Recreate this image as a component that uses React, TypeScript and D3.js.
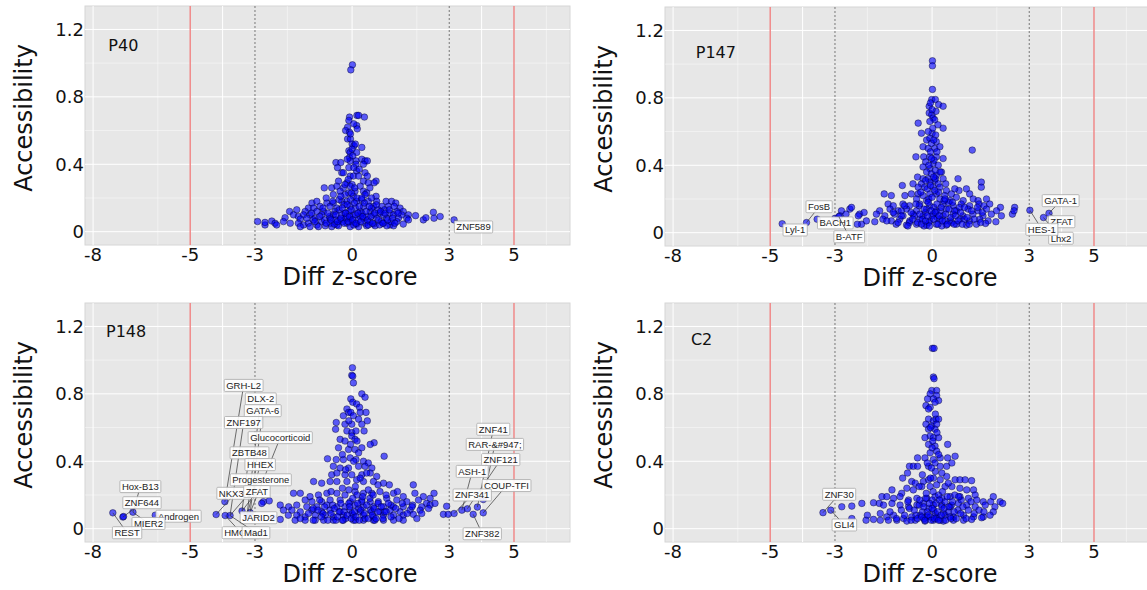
import React from 'react';
import * as d3 from 'd3';

type Pt = [number, number];
type Lbl = { text: string; x: number; y: number; lx: number; ly: number };

const xTicks = [-8, -5, -3, 0, 3, 5];
const yTicks = [0, 0.4, 0.8, 1.2];
const xGridMajor = [-8, -4, 0, 4];
const xGridMinor = [-6, -2, 2, 6];
const yGridMajor = [0, 0.4, 0.8, 1.2];
const yGridMinor = [0.2, 0.6, 1.0];
const redCutoffs = [-5, 5];
const dashCutoffs = [-3, 3];

// P40
const p40Points: Pt[] = [
  [0.01, 0.99], [-0.04, 0.96],
  [-0.08, 0.68], [0.15, 0.69], [0.2, 0.69], [0.38, 0.68], [-0.1, 0.66], [0.14, 0.63], [-0.14, 0.62], [0.16, 0.61],
  [-0.2, 0.6], [-0.08, 0.59], [-0.14, 0.55], [-0.05, 0.55], [0.0, 0.52], [0.06, 0.51], [-0.1, 0.48], [-0.06, 0.47],
  [0.0, 0.49], [0.14, 0.47], [0.3, 0.5], [-0.08, 0.44], [0.02, 0.45], [0.3, 0.43], [0.4, 0.42], [0.47, 0.42],
  [0.12, 0.42], [-0.5, 0.41], [-0.35, 0.41], [-0.06, 0.42], [-0.45, 0.38], [-0.1, 0.38], [0.12, 0.4], [0.35, 0.4],
  [-0.32, 0.35], [-0.27, 0.35], [0.14, 0.36], [0.4, 0.35], [-0.06, 0.33], [0.04, 0.33], [0.47, 0.33], [-0.42, 0.3],
  [0.35, 0.3], [0.74, 0.3], [-0.16, 0.29], [0.0, 0.28], [0.5, 0.29], [0.68, 0.29], [-0.86, 0.26], [-0.63, 0.26],
  [-0.47, 0.27], [-0.27, 0.26], [-0.06, 0.27], [0.25, 0.27], [0.55, 0.26], [-0.37, 0.24], [-0.11, 0.23], [0.09, 0.24],
  [0.35, 0.24], [0.45, 0.23], [-0.58, 0.22], [-0.22, 0.22], [0.04, 0.21], [0.4, 0.22], [0.74, 0.21],
  [-1.24, 0.17], [-1.09, 0.18], [-0.78, 0.17], [-0.58, 0.17], [-0.32, 0.18], [-0.16, 0.18], [0.14, 0.18], [0.5, 0.18],
  [0.76, 0.18], [1.05, 0.18], [1.22, 0.18], [1.35, 0.17],
  [-1.35, 0.14], [-1.19, 0.14], [-0.99, 0.15], [-0.68, 0.15], [-0.47, 0.14], [-0.06, 0.15], [0.35, 0.15], [0.66, 0.15],
  [0.92, 0.15], [1.12, 0.15], [1.48, 0.14], [1.58, 0.12],
  [-1.93, 0.12], [-1.71, 0.13], [-1.45, 0.12], [-1.09, 0.12], [-0.88, 0.12], [-0.53, 0.12], [-0.22, 0.11], [0.25, 0.12],
  [0.56, 0.12], [0.86, 0.11], [1.17, 0.11], [1.38, 0.12],
  [-1.81, 0.1], [-1.66, 0.09], [-1.5, 0.1], [-1.3, 0.1], [-0.94, 0.1], [-0.58, 0.1], [-0.32, 0.1], [0.04, 0.1],
  [0.25, 0.09], [0.66, 0.1], [0.97, 0.1], [1.28, 0.1], [1.53, 0.1], [1.74, 0.1], [1.96, 0.095],
  [-2.07, 0.083], [-1.6, 0.075], [-1.14, 0.08], [-0.68, 0.08], [-0.37, 0.07], [-0.06, 0.075], [0.35, 0.08], [0.76, 0.08],
  [1.07, 0.08], [1.43, 0.08], [1.69, 0.08], [2.2, 0.07], [2.28, 0.083], [2.51, 0.115], [2.53, 0.08], [2.72, 0.09],
  [-2.92, 0.06], [-2.69, 0.04], [-2.69, 0.055], [-2.48, 0.063], [-2.38, 0.05], [-2.33, 0.04], [-2.12, 0.06], [-1.91, 0.05],
  [-1.66, 0.05], [-1.5, 0.04], [-1.35, 0.05], [-1.09, 0.04], [-0.94, 0.06], [-0.68, 0.05], [-0.47, 0.04], [-0.16, 0.05],
  [0.14, 0.045], [0.4, 0.05], [0.66, 0.045], [0.97, 0.05], [1.17, 0.04], [1.38, 0.06], [1.74, 0.07],
  [-1.6, 0.03], [-1.3, 0.03], [-1.04, 0.03], [-0.83, 0.035], [-0.63, 0.03], [-0.42, 0.035], [-0.06, 0.03], [0.2, 0.03],
  [0.45, 0.035], [0.71, 0.035], [1.07, 0.035], [1.28, 0.035], [1.58, 0.045],
  [-0.3, 0.06], [-0.2, 0.08], [-0.1, 0.12], [0.0, 0.06], [0.1, 0.14], [0.2, 0.07], [0.3, 0.11], [0.45, 0.09],
  [0.55, 0.06], [0.6, 0.14], [-0.4, 0.13], [-0.5, 0.07], [-0.7, 0.09], [0.8, 0.13], [0.9, 0.06], [-0.85, 0.07],
  [0.15, 0.2], [-0.05, 0.19], [0.3, 0.19], [-0.25, 0.16], [0.1, 0.1], [-0.15, 0.09], [0.5, 0.04], [-0.55, 0.045],
  [0.05, 0.04], [0.85, 0.04], [1.0, 0.13], [-1.2, 0.07], [1.2, 0.06],
  [-1.4, 0.08], [-1.25, 0.11], [-1.15, 0.06], [-1.0, 0.09], [-0.9, 0.14], [-0.8, 0.05], [-0.75, 0.11], [-0.65, 0.07],
  [-0.6, 0.18], [-0.5, 0.1], [-0.45, 0.06], [-0.4, 0.19], [-0.35, 0.08], [-0.3, 0.14], [-0.25, 0.05], [-0.2, 0.11],
  [-0.15, 0.16], [-0.12, 0.06], [-0.08, 0.09], [-0.03, 0.13], [0.02, 0.07], [0.07, 0.17], [0.12, 0.05], [0.18, 0.11],
  [0.22, 0.15], [0.27, 0.06], [0.33, 0.09], [0.38, 0.17], [0.43, 0.12], [0.48, 0.07], [0.53, 0.15], [0.58, 0.09],
  [0.63, 0.05], [0.7, 0.11], [0.75, 0.16], [0.82, 0.07], [0.88, 0.12], [0.95, 0.05], [1.02, 0.11], [1.1, 0.07],
  [1.15, 0.13], [1.25, 0.08], [1.32, 0.05], [1.42, 0.11], [-0.02, 0.23], [0.08, 0.26], [-0.12, 0.31], [0.2, 0.33],
  [0.05, 0.38], [-0.15, 0.43], [0.1, 0.52], [-0.05, 0.58], [0.05, 0.64], [0.22, 0.37], [-0.22, 0.28], [0.3, 0.2],
  [-0.35, 0.21], [0.6, 0.2], [-0.8, 0.2], [1.3, 0.15],
  [3.15, 0.07],
];
const p40Labels: Lbl[] = [{ text: 'ZNF589', x: 3.15, y: 0.07, lx: 3.75, ly: 0.028 }];

// P147
const p147Points: Pt[] = [
  [0.01, 1.02], [0.01, 0.99], [0.01, 0.85], [-0.01, 0.79], [0.1, 0.79], [0.2, 0.76], [0.34, 0.75], [-0.09, 0.75],
  [-0.09, 0.71], [-0.01, 0.7], [0.03, 0.68], [0.08, 0.67], [-0.07, 0.66], [0.34, 0.62], [-0.43, 0.65], [-0.33, 0.59],
  [0, 0.59], [0.11, 0.58], [-0.17, 0.55], [-0.07, 0.56], [0.13, 0.54], [-0.28, 0.51], [-0.12, 0.5], [0.08, 0.5],
  [0.24, 0.51], [1.24, 0.49], [-0.5, 0.45], [-0.26, 0.45], [-0.07, 0.45], [0.13, 0.45], [0.34, 0.44], [-0.2, 0.42],
  [0.03, 0.41], [0.19, 0.4], [-0.28, 0.39], [-0.07, 0.38], [-0.17, 0.36], [-0.02, 0.35], [0.13, 0.34], [0.29, 0.36],
  [-0.45, 0.33], [-0.28, 0.32], [-0.12, 0.32], [0.08, 0.31], [0.34, 0.32], [0.8, 0.32], [-0.33, 0.29], [-0.07, 0.3],
  [0.19, 0.29], [0.42, 0.29], [1.52, 0.3], [1.52, 0.27], [-0.92, 0.28], [-0.59, 0.29], [-0.43, 0.27], [-0.23, 0.27],
  [0.03, 0.27], [0.24, 0.27], [0.44, 0.25], [0.83, 0.25], [1.06, 0.26], [-1.48, 0.23], [-1.26, 0.22], [-0.84, 0.22],
  [-0.64, 0.23], [-0.43, 0.23], [-0.28, 0.22], [-0.07, 0.23], [0.13, 0.23], [0.39, 0.22], [0.6, 0.23], [0.75, 0.21],
  [1.16, 0.23], [-0.48, 0.2], [-0.17, 0.19], [0.24, 0.2], [0.55, 0.19], [0.96, 0.19], [1.27, 0.2], [1.42, 0.19],
  [1.68, 0.2],
  [-1.36, 0.17], [-1.2, 0.16], [-0.9, 0.17], [-0.7, 0.16], [-0.38, 0.17], [-0.07, 0.16], [0.34, 0.17], [0.65, 0.16],
  [0.9, 0.17], [1.16, 0.16], [1.45, 0.17], [1.6, 0.16], [1.78, 0.17], [2.11, 0.15], [2.55, 0.15],
  [-1.62, 0.13], [-1.3, 0.14], [-1.05, 0.13], [-0.79, 0.14], [-0.48, 0.13], [-0.17, 0.14], [0.13, 0.13], [0.44, 0.14],
  [0.75, 0.13], [1.11, 0.14], [1.42, 0.13], [1.68, 0.14], [1.99, 0.13],
  [-1.72, 0.11], [-1.46, 0.1], [-1.16, 0.11], [-0.9, 0.1], [-0.59, 0.11], [-0.28, 0.1], [0.03, 0.11], [0.34, 0.1],
  [0.65, 0.11], [0.95, 0.1], [1.26, 0.11], [1.57, 0.1], [1.83, 0.11], [2.14, 0.1], [2.48, 0.11],
  [-1.77, 0.065], [-1.52, 0.08], [-1.26, 0.07], [-1.0, 0.08], [-0.69, 0.07], [-0.38, 0.08], [-0.07, 0.07], [0.24, 0.08],
  [0.55, 0.07], [0.86, 0.08], [1.16, 0.07], [1.47, 0.08], [1.73, 0.07], [1.97, 0.065],
  [-1.11, 0.05], [-0.79, 0.045], [-0.48, 0.05], [-0.17, 0.045], [0.13, 0.05], [0.44, 0.045], [0.75, 0.05], [1.06, 0.045],
  [1.37, 0.05], [1.65, 0.055],
  [-2.54, 0.14], [-2.49, 0.15], [-2.8, 0.13], [-2.66, 0.11], [-2.24, 0.11], [-2.1, 0.12], [-2.28, 0.1], [-2.03, 0.07],
  [-2.18, 0.05], [-2.31, 0.05], [-2.85, 0.1], [-3.0, 0.085], [-2.88, 0.095],
  [-4.63, 0.053], [-3.88, 0.06], [-3.55, 0.08],
  [2.53, 0.13], [3.02, 0.133], [3.61, 0.115], [3.44, 0.09],
  [-0.3, 0.08], [-0.2, 0.12], [-0.1, 0.06], [0.05, 0.15], [0.15, 0.09], [0.25, 0.13], [0.4, 0.07], [-0.4, 0.16],
  [0.5, 0.18], [-0.55, 0.1], [0.6, 0.06], [-0.15, 0.26], [0.1, 0.37], [-0.05, 0.48], [0.02, 0.62], [-0.02, 0.53],
  [0.06, 0.43], [-0.1, 0.2], [0.2, 0.24], [0.1, 0.32], [0.0, 0.1], [0.3, 0.04], [-0.25, 0.04], [0.7, 0.13],
  [-0.7, 0.06], [1.0, 0.08], [0.85, 0.15], [-0.95, 0.13], [0.12, 0.72], [-0.05, 0.77],
  [-1.4, 0.07], [-1.2, 0.12], [-1.05, 0.06], [-0.95, 0.1], [-0.85, 0.16], [-0.75, 0.04], [-0.65, 0.12], [-0.6, 0.08],
  [-0.5, 0.17], [-0.45, 0.06], [-0.38, 0.11], [-0.33, 0.05], [-0.25, 0.14], [-0.2, 0.07], [-0.15, 0.1], [-0.12, 0.18],
  [-0.08, 0.04], [-0.03, 0.13], [0.0, 0.21], [0.05, 0.08], [0.08, 0.25], [0.1, 0.12], [0.15, 0.17], [0.18, 0.05],
  [0.22, 0.1], [0.28, 0.15], [0.32, 0.07], [0.37, 0.19], [0.42, 0.11], [0.47, 0.05], [0.52, 0.14], [0.58, 0.09],
  [0.63, 0.18], [0.68, 0.05], [0.72, 0.1], [0.8, 0.07], [0.88, 0.12], [0.93, 0.05], [1.0, 0.15], [1.08, 0.09],
  [1.15, 0.05], [1.22, 0.13], [1.3, 0.08], [1.4, 0.15], [1.5, 0.06], [1.55, 0.12], [-0.05, 0.28], [0.05, 0.33],
  [-0.1, 0.4], [0.15, 0.48], [-0.2, 0.31], [0.25, 0.36], [-0.02, 0.44], [0.05, 0.55], [-0.12, 0.6], [0.18, 0.64],
  [0.0, 0.73], [0.4, 0.2], [-0.35, 0.24], [0.7, 0.26],
];
const p147Labels: Lbl[] = [
  { text: 'Lyl-1', x: -4.63, y: 0.053, lx: -4.23, ly: 0.016 },
  { text: 'FosB', x: -3.88, y: 0.06, lx: -3.49, ly: 0.154 },
  { text: 'BACH1', x: -3.0, y: 0.085, lx: -2.99, ly: 0.058 },
  { text: 'B-ATF', x: -2.88, y: 0.095, lx: -2.56, ly: -0.024 },
  { text: 'GATA-1', x: 3.61, y: 0.115, lx: 3.97, ly: 0.19 },
  { text: 'ZFAT', x: 3.61, y: 0.115, lx: 4.0, ly: 0.065 },
  { text: 'Lhx2', x: 3.44, y: 0.09, lx: 3.98, ly: -0.033 },
  { text: 'HES-1', x: 3.02, y: 0.133, lx: 3.39, ly: 0.02 },
];

// P148
const p148Points: Pt[] = [
  [0.01, 0.955], [-0.01, 0.91], [0.02, 0.905], [0.04, 0.865], [0.3, 0.8], [0.4, 0.78], [-0.04, 0.77], [0.02, 0.75],
  [0.14, 0.74], [0.23, 0.72], [-0.16, 0.71], [-0.11, 0.69], [-0.04, 0.69], [0.25, 0.69], [0.43, 0.69], [-0.27, 0.67],
  [0.04, 0.67], [0.2, 0.65], [0.47, 0.64], [-0.49, 0.63], [-0.22, 0.62], [-0.01, 0.62], [-0.51, 0.59], [-0.16, 0.58],
  [-0.01, 0.57], [0.12, 0.58], [0.37, 0.58], [-0.01, 0.55], [-0.37, 0.53], [-0.22, 0.52], [0.09, 0.53], [0.68, 0.51],
  [0.56, 0.5], [-0.42, 0.48], [-0.11, 0.47], [0.09, 0.47], [0.3, 0.48], [-0.76, 0.415], [-0.49, 0.41], [-0.27, 0.41],
  [-0.06, 0.42], [0.12, 0.41], [0.35, 0.4], [0.5, 0.39], [0.99, 0.43], [-0.58, 0.37], [-0.37, 0.36], [-0.11, 0.36],
  [0.2, 0.37], [0.4, 0.37], [0.61, 0.36], [-0.63, 0.32], [-0.47, 0.33], [-0.22, 0.32], [-0.01, 0.32], [0.3, 0.32],
  [0.56, 0.33], [0.76, 0.31], [-1.19, 0.28], [-0.94, 0.27], [-0.68, 0.28], [-0.47, 0.28], [-0.16, 0.28], [0.14, 0.29],
  [0.35, 0.28], [0.66, 0.28], [0.97, 0.27], [1.15, 0.26], [1.89, 0.26],
  [-1.81, 0.21], [-1.6, 0.21], [-1.3, 0.19], [-1.04, 0.2], [-0.78, 0.21], [-0.47, 0.21], [-0.22, 0.2], [0.09, 0.22],
  [0.35, 0.21], [0.61, 0.21], [0.86, 0.22], [1.28, 0.21], [1.58, 0.19], [1.94, 0.21], [2.2, 0.19], [2.53, 0.21],
  [-1.45, 0.17], [-1.24, 0.16], [-0.94, 0.16], [-0.68, 0.17], [-0.37, 0.17], [-0.06, 0.16], [0.3, 0.17], [0.56, 0.16],
  [0.81, 0.16], [1.07, 0.18], [1.38, 0.17], [1.69, 0.16], [2.05, 0.17], [2.3, 0.15], [2.41, 0.18],
  [-2.74, 0.16], [-2.22, 0.14], [-1.96, 0.13], [-1.71, 0.14], [-1.4, 0.13], [-1.09, 0.13], [-0.78, 0.14], [-0.47, 0.13],
  [-0.22, 0.13], [0.09, 0.14], [0.35, 0.13], [0.66, 0.13], [0.97, 0.13], [1.28, 0.13], [1.58, 0.13], [1.87, 0.14],
  [2.15, 0.13], [2.41, 0.14], [2.56, 0.15],
  [-2.12, 0.11], [-1.86, 0.11], [-1.6, 0.1], [-1.24, 0.11], [-0.94, 0.1], [-0.68, 0.11], [-0.37, 0.1], [-0.06, 0.11],
  [0.25, 0.1], [0.56, 0.11], [0.86, 0.1], [1.17, 0.11], [1.48, 0.1], [1.79, 0.11], [2.1, 0.11], [2.36, 0.12],
  [-1.97, 0.08], [-1.71, 0.08], [-1.45, 0.07], [-1.14, 0.08], [-0.83, 0.08], [-0.58, 0.07], [-0.27, 0.08], [0.04, 0.08],
  [0.35, 0.08], [0.66, 0.07], [0.97, 0.08], [1.28, 0.08], [1.58, 0.08], [1.89, 0.085], [2.15, 0.09],
  [-1.76, 0.05], [-1.45, 0.05], [-1.14, 0.05], [-0.88, 0.05], [-0.58, 0.05], [-0.27, 0.05], [0.04, 0.05], [0.35, 0.05],
  [0.66, 0.05], [0.97, 0.05], [1.28, 0.05], [1.58, 0.05],
  [-2.43, 0.065], [-2.22, 0.055], [-2.79, 0.15], [-2.56, 0.165],
  [-0.2, 0.06], [0.0, 0.09], [0.2, 0.12], [-0.4, 0.1], [0.4, 0.06], [0.6, 0.1], [-0.6, 0.14], [0.8, 0.15],
  [-0.1, 0.15], [0.15, 0.2], [0.5, 0.23], [-0.3, 0.24], [0.1, 0.05], [-0.5, 0.05], [0.7, 0.05], [1.0, 0.1],
  [-0.9, 0.09], [0.3, 0.16], [1.2, 0.14], [-1.2, 0.12],
  [-1.6, 0.06], [-1.35, 0.09], [-1.2, 0.05], [-1.05, 0.11], [-0.95, 0.07], [-0.85, 0.13], [-0.75, 0.05], [-0.65, 0.09],
  [-0.55, 0.12], [-0.45, 0.07], [-0.35, 0.15], [-0.3, 0.05], [-0.25, 0.1], [-0.15, 0.08], [-0.08, 0.13], [-0.03, 0.06],
  [0.02, 0.18], [0.07, 0.1], [0.12, 0.07], [0.17, 0.15], [0.22, 0.05], [0.27, 0.11], [0.33, 0.19], [0.38, 0.09],
  [0.45, 0.14], [0.5, 0.06], [0.55, 0.18], [0.62, 0.08], [0.68, 0.12], [0.74, 0.06], [0.8, 0.1], [0.9, 0.13],
  [0.95, 0.06], [1.05, 0.1], [1.12, 0.15], [1.2, 0.07], [1.35, 0.12], [1.45, 0.06], [1.55, 0.15], [1.7, 0.09],
  [1.85, 0.13], [2.0, 0.06], [0.1, 0.25], [-0.1, 0.23], [0.25, 0.3], [-0.2, 0.35], [0.45, 0.33], [0.05, 0.4],
  [0.2, 0.45], [-0.3, 0.44], [0.15, 0.52], [-0.05, 0.5], [0.3, 0.62], [-0.1, 0.64], [0.65, 0.2], [-0.65, 0.22],
  [0.8, 0.26], [1.05, 0.2], [-1.0, 0.17], [1.4, 0.22],
  [2.82, 0.085], [2.97, 0.085], [2.92, 0.133], [3.15, 0.09], [3.39, 0.11], [3.56, 0.118], [3.74, 0.085], [3.87, 0.128],
  [4.05, 0.173], [4.05, 0.094],
  [-7.39, 0.094], [-7.08, 0.069], [-7.06, 0.072], [-6.77, 0.098], [-6.08, 0.08],
  [-4.2, 0.084], [-3.93, 0.16], [-3.92, 0.078], [-3.77, 0.078], [-3.4, 0.105], [-3.25, 0.074], [-3.15, 0.095],
];
const p148Labels: Lbl[] = [
  { text: 'GRH-L2', x: -3.93, y: 0.16, lx: -3.35, ly: 0.85 },
  { text: 'DLX-2', x: -3.25, y: 0.074, lx: -2.82, ly: 0.77 },
  { text: 'GATA-6', x: -3.15, y: 0.095, lx: -2.76, ly: 0.7 },
  { text: 'ZNF197', x: -3.77, y: 0.078, lx: -3.35, ly: 0.63 },
  { text: 'Glucocorticoid', x: -3.15, y: 0.095, lx: -2.22, ly: 0.54 },
  { text: 'ZBTB48', x: -3.4, y: 0.105, lx: -3.17, ly: 0.45 },
  { text: 'HHEX', x: -3.25, y: 0.074, lx: -2.84, ly: 0.38 },
  { text: 'Progesterone', x: -3.77, y: 0.078, lx: -2.82, ly: 0.29 },
  { text: 'NKX3.1', x: -4.2, y: 0.084, lx: -3.61, ly: 0.21 },
  { text: 'ZFAT', x: -3.4, y: 0.105, lx: -2.94, ly: 0.22 },
  { text: 'JARID2', x: -3.15, y: 0.095, lx: -2.89, ly: 0.065 },
  { text: 'HMGA1', x: -3.92, y: 0.078, lx: -3.43, ly: -0.024 },
  { text: 'Mad1', x: -3.77, y: 0.078, lx: -2.97, ly: -0.024 },
  { text: 'Hox-B13', x: -6.77, y: 0.098, lx: -6.54, ly: 0.25 },
  { text: 'ZNF644', x: -7.08, y: 0.069, lx: -6.49, ly: 0.154 },
  { text: 'Androgen', x: -6.08, y: 0.08, lx: -5.36, ly: 0.074 },
  { text: 'MIER2', x: -6.77, y: 0.098, lx: -6.29, ly: 0.031 },
  { text: 'REST', x: -7.39, y: 0.094, lx: -6.95, ly: -0.024 },
  { text: 'ZNF41', x: 3.87, y: 0.128, lx: 4.36, ly: 0.59 },
  { text: 'RAR-&#947;', x: 4.05, y: 0.173, lx: 4.41, ly: 0.5 },
  { text: 'ZNF121', x: 3.56, y: 0.118, lx: 4.59, ly: 0.41 },
  { text: 'ASH-1', x: 3.39, y: 0.11, lx: 3.71, ly: 0.34 },
  { text: 'COUP-TFI', x: 4.05, y: 0.094, lx: 4.77, ly: 0.256 },
  { text: 'ZNF341', x: 3.15, y: 0.09, lx: 3.71, ly: 0.2 },
  { text: 'ZNF382', x: 3.74, y: 0.085, lx: 4.02, ly: -0.03 },
];

// C2
const c2Points: Pt[] = [
  [0.01, 1.07], [0.06, 1.07], [0.04, 0.9], [0.06, 0.89], [-0.01, 0.82], [0.14, 0.82], [-0.06, 0.8], [0.14, 0.79],
  [0.2, 0.76], [-0.14, 0.77], [0.04, 0.77], [-0.19, 0.73], [-0.06, 0.72], [0.09, 0.75], [-0.11, 0.71], [-0.11, 0.65],
  [0.04, 0.64], [0.12, 0.65], [0.2, 0.65], [-0.19, 0.62], [-0.01, 0.61], [0.14, 0.62], [0.09, 0.59], [-0.11, 0.59],
  [-0.06, 0.55], [-0.22, 0.54], [0.04, 0.54], [0.2, 0.54], [0.48, 0.5], [-0.11, 0.5], [0.09, 0.49], [-0.06, 0.45],
  [0.14, 0.46], [-0.45, 0.42], [-0.22, 0.42], [0.04, 0.41], [0.25, 0.42], [0.48, 0.42], [0.71, 0.43], [-0.7, 0.37],
  [-0.58, 0.37], [-0.45, 0.37], [-0.11, 0.37], [0.09, 0.39], [0.25, 0.37], [0.45, 0.37], [0.61, 0.39], [-0.91, 0.3],
  [-0.76, 0.33], [-0.63, 0.28], [-0.52, 0.27], [-0.27, 0.28], [-0.11, 0.29], [0.04, 0.3], [0.25, 0.29], [0.45, 0.31],
  [0.71, 0.29], [0.86, 0.29], [1.02, 0.29], [1.22, 0.285], [-1.24, 0.23], [-0.94, 0.21], [-0.78, 0.24], [-0.58, 0.23],
  [-0.32, 0.25], [-0.06, 0.25], [0.14, 0.26], [0.4, 0.25], [0.61, 0.25], [0.86, 0.24], [1.07, 0.23], [1.28, 0.23],
  [1.33, 0.2],
  [-1.55, 0.19], [-1.4, 0.19], [-1.19, 0.18], [-0.99, 0.19], [-0.73, 0.17], [-0.47, 0.18], [-0.16, 0.18], [0.09, 0.19],
  [0.3, 0.18], [0.56, 0.19], [0.86, 0.19], [1.12, 0.18], [1.38, 0.17], [1.58, 0.16], [1.89, 0.19],
  [1.81, 0.16], [2.1, 0.16], [2.18, 0.15], [1.94, 0.13],
  [-2.17, 0.15], [-1.81, 0.154], [-1.63, 0.15], [-1.5, 0.14], [-1.24, 0.15], [-0.99, 0.14], [-0.73, 0.13], [-0.47, 0.14],
  [-0.27, 0.15], [0.04, 0.14], [0.3, 0.14], [0.56, 0.13], [0.81, 0.15], [1.07, 0.14], [1.33, 0.13], [1.64, 0.14],
  [1.89, 0.1],
  [-2.48, 0.134], [-2.79, 0.13], [-3.13, 0.11], [-3.37, 0.095], [-2.48, 0.06],
  [-2.0, 0.08], [-1.6, 0.09], [-1.4, 0.07], [-1.19, 0.08], [-0.88, 0.06], [-0.63, 0.07], [-0.37, 0.08], [-0.16, 0.07],
  [0.14, 0.07], [0.4, 0.08], [0.66, 0.07], [0.97, 0.08], [1.28, 0.07], [1.58, 0.07], [1.79, 0.08],
  [-2.04, 0.05], [-1.81, 0.055], [-1.6, 0.05], [-1.35, 0.05], [-1.09, 0.05], [-0.78, 0.045], [-0.52, 0.05], [-0.22, 0.045],
  [0.04, 0.05], [0.35, 0.045], [0.66, 0.05], [0.97, 0.05], [1.22, 0.055], [1.53, 0.065],
  [-0.3, 0.1], [-0.1, 0.12], [0.1, 0.09], [0.3, 0.13], [0.5, 0.1], [0.0, 0.17], [0.2, 0.2], [-0.2, 0.18],
  [0.4, 0.16], [0.6, 0.14], [-0.4, 0.14], [0.15, 0.06], [-0.05, 0.07], [0.25, 0.05], [0.55, 0.07], [-0.5, 0.08],
  [0.7, 0.2], [0.8, 0.11], [-0.7, 0.12], [0.9, 0.17], [-0.15, 0.1], [0.05, 0.11], [0.35, 0.09], [-0.25, 0.06],
  [-1.3, 0.1], [-1.1, 0.06], [-0.95, 0.11], [-0.85, 0.08], [-0.75, 0.16], [-0.65, 0.05], [-0.55, 0.11], [-0.45, 0.06],
  [-0.38, 0.17], [-0.32, 0.07], [-0.26, 0.13], [-0.22, 0.05], [-0.18, 0.21], [-0.12, 0.08], [-0.08, 0.15], [-0.03, 0.05],
  [0.0, 0.12], [0.03, 0.22], [0.07, 0.06], [0.12, 0.15], [0.17, 0.1], [0.2, 0.05], [0.23, 0.17], [0.28, 0.08],
  [0.32, 0.22], [0.37, 0.12], [0.42, 0.05], [0.47, 0.19], [0.52, 0.13], [0.58, 0.06], [0.63, 0.16], [0.68, 0.1],
  [0.75, 0.06], [0.82, 0.19], [0.88, 0.09], [0.95, 0.13], [1.05, 0.06], [1.12, 0.11], [1.2, 0.16], [1.3, 0.09],
  [1.45, 0.11], [1.6, 0.1], [-0.05, 0.3], [0.1, 0.34], [-0.15, 0.39], [0.2, 0.44], [0.0, 0.48], [-0.05, 0.6],
  [0.1, 0.68], [0.02, 0.52], [0.3, 0.33], [-0.3, 0.32], [0.5, 0.27], [-0.4, 0.25], [0.15, 0.57], [-0.02, 0.36],
];
const c2Labels: Lbl[] = [
  { text: 'ZNF30', x: -3.37, y: 0.095, lx: -2.87, ly: 0.204 },
  { text: 'GLI4', x: -3.13, y: 0.11, lx: -2.71, ly: 0.022 },
];

const panels = [
  { name: 'P40', points: p40Points, labels: p40Labels, dx: 0, dy: 0, tx: -7.53, ty: 1.107 },
  { name: 'P147', points: p147Points, labels: p147Labels, dx: 580, dy: 1, tx: -7.3, ty: 1.07 },
  { name: 'P148', points: p148Points, labels: p148Labels, dx: 0, dy: 297, tx: -7.6, ty: 1.17 },
  { name: 'C2', points: c2Points, labels: c2Labels, dx: 580, dy: 297, tx: -7.45, ty: 1.125 },
];

const AXIS_FONT = '"DejaVu Sans", sans-serif';
const LABEL_FONT = '"Liberation Sans", Arial, sans-serif';
const LABEL_SIZE = 9.5;

let measureCtx: CanvasRenderingContext2D | null = null;
const textWidth = (s: string) => {
  if (!measureCtx) measureCtx = document.createElement('canvas').getContext('2d');
  if (!measureCtx) return s.length * 5.5;
  measureCtx.font = `${LABEL_SIZE}px "Liberation Sans"`;
  return measureCtx.measureText(s).width;
};

function Panel({ name, points, labels, dx, dy, tx, ty }) {
  const x = d3.scaleLinear().domain([-8.25, 6.73]).range([85, 570]);
  const y = d3.scaleLinear().domain([-0.079, 1.339]).range([245, 6]);
  const [y0, y1] = y.range();
  return (
    <g transform={`translate(${dx},${dy})`}>
      <rect x={85} y={6} width={485} height={239} fill="#e7e7e7" stroke="#d6d6d6" strokeWidth={1} />
      {yGridMinor.map(v => (
        <line key={'ym' + v} x1={85} x2={570} y1={y(v)} y2={y(v)} stroke="#fff" strokeOpacity={0.55} strokeWidth={0.8} />
      ))}
      {xGridMinor.map(v => (
        <line key={'xm' + v} x1={x(v)} x2={x(v)} y1={y1} y2={y0} stroke="#fff" strokeOpacity={0.55} strokeWidth={0.8} />
      ))}
      {yGridMajor.map(v => (
        <line key={'yM' + v} x1={85} x2={570} y1={y(v)} y2={y(v)} stroke="#fff" strokeWidth={1} />
      ))}
      {xGridMajor.map(v => (
        <line key={'xM' + v} x1={x(v)} x2={x(v)} y1={y1} y2={y0} stroke="#fff" strokeWidth={1} />
      ))}
      {redCutoffs.map(v => (
        <line key={'r' + v} x1={x(v)} x2={x(v)} y1={y1} y2={y0} stroke="#f08a8a" strokeWidth={1.5} />
      ))}
      {dashCutoffs.map(v => (
        <line key={'d' + v} x1={x(v)} x2={x(v)} y1={y1} y2={y0} stroke="#777" strokeWidth={1} strokeDasharray="2,2" />
      ))}
      <g>
        {points.map((p, i) => (
          <circle key={i} cx={x(p[0])} cy={y(p[1])} r={3.3} fill="#0000ff" fillOpacity={0.62}
            stroke="#000022" strokeOpacity={0.6} strokeWidth={0.7} />
        ))}
      </g>
      {labels.map((l, i) => {
        const w = textWidth(l.text) + 4;
        const h = 12;
        const cx = x(l.lx);
        const cy = y(l.ly);
        return (
          <g key={'l' + i}>
            <line x1={x(l.x)} y1={y(l.y)} x2={cx} y2={cy} stroke="#333" strokeWidth={0.7} />
            <rect x={cx - w / 2} y={cy - h / 2} width={w} height={h} rx={1} fill="#fff" fillOpacity={0.9}
              stroke="#aaa" strokeWidth={0.8} />
            <text x={cx} y={cy + 3.4} textAnchor="middle" fontFamily={LABEL_FONT} fontSize={LABEL_SIZE} fill="#222">
              {l.text}
            </text>
          </g>
        );
      })}
      <text x={x(tx)} y={y(ty) + 5.8} fontFamily={AXIS_FONT} fontSize={16} fill="#111">{name}</text>
      {yTicks.map(v => (
        <text key={'yt' + v} x={84} y={y(v) + 6.5} textAnchor="end" fontFamily={AXIS_FONT} fontSize={18} fill="#111">
          {v === 0 ? '0' : d3.format('.1f')(v)}
        </text>
      ))}
      {xTicks.map(v => (
        <text key={'xt' + v} x={x(v)} y={261} textAnchor="middle" fontFamily={AXIS_FONT} fontSize={18} fill="#111">
          {v}
        </text>
      ))}
      <text x={350} y={285} textAnchor="middle" fontFamily={AXIS_FONT} fontSize={24} fill="#111">Diff z-score</text>
      <text transform="translate(32,118) rotate(-90)" textAnchor="middle" fontFamily={AXIS_FONT} fontSize={24} fill="#111">
        Accessibility
      </text>
    </g>
  );
}

export default function App() {
  return (
    <svg width={1147} height={590} style={{ position: 'absolute', left: 0, top: 0, background: '#fff' }}>
      {panels.map(p => (
        <Panel key={p.name} {...p} />
      ))}
    </svg>
  );
}
